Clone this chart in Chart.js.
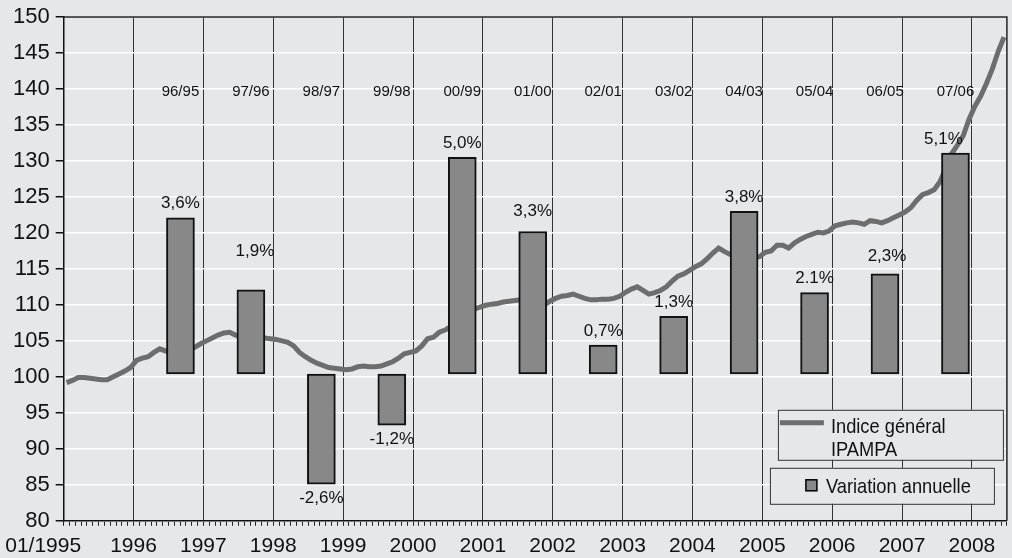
<!DOCTYPE html>
<html>
<head>
<meta charset="utf-8">
<script src="https://cdn.jsdelivr.net/npm/chart.js@4.4.1/dist/chart.umd.min.js"></script>
<style>
  html, body { margin: 0; padding: 0; background: #e6e7e9; }
  #wrap { width: 1012px; height: 558px; }
</style>
</head>
<body>
<div id="wrap"><canvas id="ipampa"></canvas></div>
<script>
// monthly categories, 01/1995 .. 06/2008
const firstYear = 1995;
const lastYear = 2008;
const lastMonth = 6;
const months = [];
for (let y = firstYear; y <= lastYear; y++) {
  for (let m = 1; m <= 12; m++) {
    if (y === lastYear && m > lastMonth) break;
    months.push((m < 10 ? '0' : '') + m + '/' + y);
  }
}
const yearTicks = ['01/1995', '1996', '1997', '1998', '1999', '2000', '2001',
  '2002', '2003', '2004', '2005', '2006', '2007', '2008'];

// Indice général IPAMPA, one value per month
const indexValues = [
  99.2, 99.5, 99.9, 99.9, 99.8, 99.7, 99.6, 99.6, 100.0, 100.4, 100.8, 101.3,
  102.3, 102.6, 102.8, 103.4, 103.9, 103.6, 103.5, 103.6, 103.8, 104.0, 104.1, 104.6,
  105.0, 105.4, 105.8, 106.1, 106.2, 105.8, 105.6, 105.5, 105.4, 105.4, 105.4, 105.3,
  105.2, 105.0, 104.8, 104.3, 103.4, 102.8, 102.3, 101.9, 101.6, 101.3, 101.2, 101.1,
  101.0, 101.1, 101.4, 101.5, 101.4, 101.4, 101.5, 101.8, 102.1, 102.6, 103.2, 103.4,
  103.6, 104.3, 105.3, 105.5, 106.2, 106.5, 107.0, 107.8, 108.5, 109.0, 109.4, 109.7,
  109.95, 110.1, 110.2, 110.4, 110.5, 110.6, 110.7, 110.8, 110.7, 110.4, 110.0, 110.5,
  110.9, 111.2, 111.3, 111.5, 111.2, 110.9, 110.7, 110.7, 110.8, 110.8, 110.9, 111.2,
  111.75, 112.2, 112.5, 112.0, 111.5, 111.7, 112.0, 112.5, 113.3, 114.0, 114.3, 114.8,
  115.3, 115.7, 116.4, 117.2, 117.9, 117.4, 117.0, 116.6, 116.4, 116.4, 116.5, 116.7,
  117.3, 117.5, 118.3, 118.3, 117.9, 118.6, 119.1, 119.5, 119.8, 120.1, 120.0, 120.3,
  121.0, 121.2, 121.4, 121.5, 121.4, 121.2, 121.7, 121.6, 121.4, 121.7, 122.1, 122.5,
  122.9, 123.5, 124.5, 125.3, 125.6, 126.0, 127.1, 129.0, 131.0, 132.2, 133.5, 135.8,
  137.6, 139.0, 140.8, 142.8, 145.2, 147.2
];

// Variation annuelle, drawn as bars standing on the index base
const periods = ['96/95', '97/96', '98/97', '99/98', '00/99', '01/00',
  '02/01', '03/02', '04/03', '05/04', '06/05', '07/06'];
const changeLabels = ['3,6%', '1,9%', '-2,6%', '-1,2%', '5,0%', '3,3%',
  '0,7%', '1,3%', '3,8%', '2.1%', '2,3%', '5,1%'];
const barTops = [122.1, 112.1, 85.1, 93.3, 130.5, 120.2,
  104.4, 108.4, 123.0, 111.7, 114.3, 131.1];
const barBase = 100.4;

const bgColour = '#e6e7e9';
const fontFamily = '"Liberation Sans", Arial, sans-serif';

// small manual shifts for a few value labels, as in the source figure
const labelNudge = { 1: { dx: 4, dy: -24 }, 5: { dx: 0, dy: -6 }, 10: { dx: 2, dy: -4 }, 11: { dx: -12, dy: 0 } };

// condensed text: the legend uses a narrow face
function narrowText(ctx, text, x, y, squeeze) {
  ctx.save();
  ctx.translate(x, y);
  ctx.scale(squeeze, 1);
  ctx.fillText(text, 0, 0);
  ctx.restore();
}

const decorations = {
  id: 'decorations',
  beforeDraw(chart) {
    const ctx = chart.ctx;
    ctx.save();
    ctx.fillStyle = bgColour;
    ctx.fillRect(0, 0, chart.width, chart.height);
    ctx.restore();
  },
  afterDatasetsDraw(chart) {
    const ctx = chart.ctx;
    const area = chart.chartArea;
    const yScale = chart.scales.y;
    const bars = chart.getDatasetMeta(1).data;
    ctx.save();

    // frame top and right
    ctx.strokeStyle = '#222';
    ctx.lineWidth = 1.5;
    ctx.beginPath();
    ctx.moveTo(area.left, area.top);
    ctx.lineTo(area.right, area.top);
    ctx.lineTo(area.right, area.bottom);
    ctx.stroke();

    ctx.fillStyle = '#111';
    ctx.textAlign = 'center';
    ctx.textBaseline = 'middle';

    // period labels on the 140 line
    ctx.font = '15px ' + fontFamily;
    bars.forEach((bar, i) => {
      ctx.fillText(periods[i], bar.x, yScale.getPixelForValue(140) + 3);
    });

    // change labels above / below each bar
    ctx.font = '17px ' + fontFamily;
    bars.forEach((bar, i) => {
      const n = labelNudge[i] || { dx: 0, dy: 0 };
      const end = yScale.getPixelForValue(barTops[i]);
      const y = barTops[i] >= barBase ? end - 14 : end + 14;
      ctx.fillText(changeLabels[i], bar.x + n.dx, y + n.dy);
    });

    // legend boxes
    const lineDs = chart.data.datasets[0];
    const barDs = chart.data.datasets[1];
    const legendFont = '21px ' + fontFamily;
    ctx.lineWidth = 1;
    ctx.strokeStyle = '#333';

    let bx = area.right - 229, by = area.bottom - 111;
    ctx.fillStyle = bgColour;
    ctx.fillRect(bx, by, 225, 50);
    ctx.strokeRect(bx + 0.5, by + 0.5, 225, 50);
    ctx.strokeStyle = lineDs.borderColor;
    ctx.lineWidth = 5;
    ctx.beginPath();
    ctx.moveTo(bx + 2, by + 13);
    ctx.lineTo(bx + 46, by + 13);
    ctx.stroke();
    ctx.fillStyle = '#111';
    ctx.font = legendFont;
    ctx.textAlign = 'left';
    ctx.textBaseline = 'alphabetic';
    const lines = lineDs.label.split('\n');
    narrowText(ctx, lines[0], bx + 53, by + 23, 0.87);
    narrowText(ctx, lines[1], bx + 53, by + 46, 0.87);

    bx = area.right - 237; by = area.bottom - 53;
    ctx.lineWidth = 1;
    ctx.strokeStyle = '#333';
    ctx.fillStyle = bgColour;
    ctx.fillRect(bx, by, 224, 36);
    ctx.strokeRect(bx + 0.5, by + 0.5, 224, 36);
    ctx.fillStyle = barDs.backgroundColor;
    ctx.fillRect(bx + 36, by + 12, 11, 11);
    ctx.strokeStyle = '#000';
    ctx.lineWidth = 1.5;
    ctx.strokeRect(bx + 36, by + 12, 11, 11);
    ctx.fillStyle = '#111';
    ctx.textBaseline = 'middle';
    narrowText(ctx, barDs.label, bx + 56, by + 19, 0.87);

    ctx.restore();
  }
};

new Chart(document.getElementById('ipampa'), {
  type: 'bar',
  data: {
    labels: months,
    datasets: [
      {
        type: 'line',
        label: 'Indice général\nIPAMPA',
        data: indexValues,
        xAxisID: 'x',
        borderColor: '#6d6d6d',
        borderWidth: 5,
        pointRadius: 0,
        tension: 0,
        order: 2
      },
      {
        type: 'bar',
        label: 'Variation annuelle',
        data: periods.map((p, i) => ({ x: i, y: [barBase, barTops[i]] })),
        xAxisID: 'x2',
        backgroundColor: '#888888',
        borderColor: '#111',
        borderWidth: 2,
        borderSkipped: false,
        barThickness: 28,
        grouped: false,
        order: 1
      }
    ]
  },
  options: {
    responsive: true,
    maintainAspectRatio: false,
    animation: false,
    layout: { padding: { left: 7, right: 3, top: 15, bottom: -9 } },
    plugins: { legend: { display: false }, tooltip: { enabled: false } },
    scales: {
      x: {
        type: 'category',
        offset: true,
        grid: {
          offset: true,
          color: (c) => (c.index % 12 === 0 ? '#333' : 'rgba(0,0,0,0)'),
          lineWidth: 1,
          tickColor: '#222',
          tickLength: 5
        },
        border: { color: '#111', width: 1.5 },
        ticks: {
          autoSkip: false,
          maxRotation: 0,
          padding: 8,
          labelOffset: -3,
          color: '#111',
          font: { family: fontFamily, size: 21 },
          // first label sits left of the axis origin in the source
          callback: (v, i) => (i === 0 ? yearTicks[0] + '       ' : (i % 12 === 0 ? yearTicks[i / 12] : ''))
        }
      },
      x2: {
        type: 'linear',
        display: false,
        offset: false,
        min: -1.657,
        max: 11.73,
        grid: { offset: false }
      },
      y: {
        min: 80,
        max: 150,
        grid: { color: '#ffffff', lineWidth: 1.5, tickColor: '#111', tickLength: 8 },
        border: { color: '#111', width: 1.5 },
        ticks: { stepSize: 5, padding: 6, color: '#111', font: { family: fontFamily, size: 22, lineHeight: 1 } }
      }
    }
  },
  plugins: [decorations]
});
</script>
</body>
</html>
